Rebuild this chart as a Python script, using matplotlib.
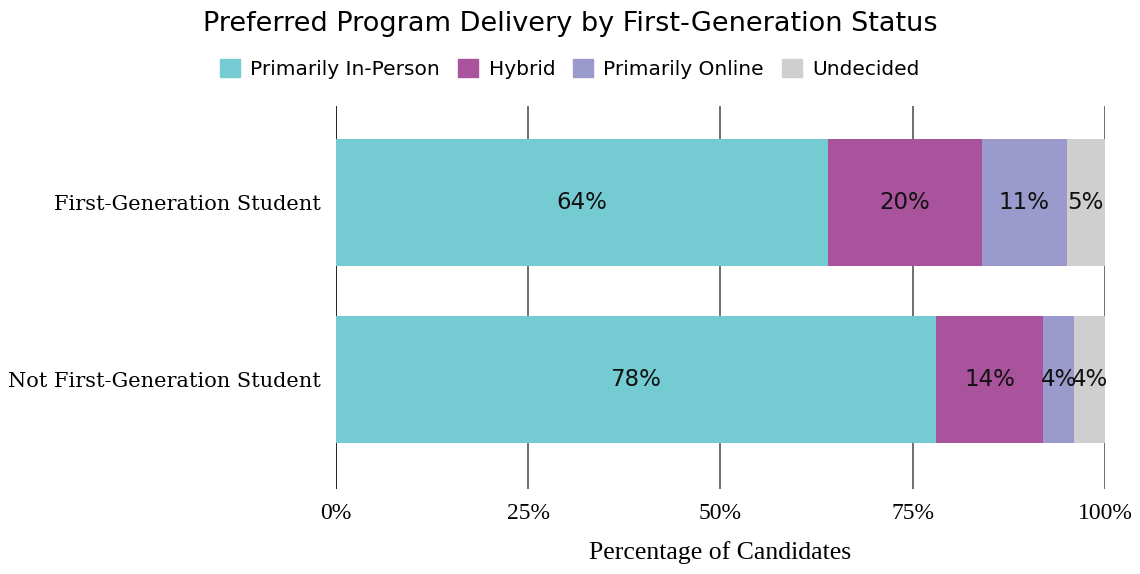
import numpy as np
import matplotlib
matplotlib.use("Agg")
import matplotlib.pyplot as plt
from matplotlib.patches import Patch

# data
groups = ["First-Generation Student", "Not First-Generation Student"]
categories = ["Primarily In-Person", "Hybrid", "Primarily Online", "Undecided"]
in_person = [64, 78]
hybrid = [20, 14]
online = [11, 4]
undecided = [5, 4]
xticks = [0, 25, 50, 75, 100]
xticklabels = ["0%", "25%", "50%", "75%", "100%"]
colors = ["#74CCD2", "#AA539D", "#9A9ACC", "#CFCFCF"]

SANS = "DejaVu Sans"


def main():
    series = [in_person, hybrid, online, undecided]
    y = np.arange(len(groups))

    fig = plt.figure(figsize=(11.4, 5.74), dpi=100)
    ax = fig.add_axes([0.2947, 0.148, 0.6746, 0.6673])

    left = np.zeros(len(groups))
    for vals, col in zip(series, colors):
        vals = np.array(vals, dtype=float)
        ax.barh(y, vals, left=left, height=0.72, color=col, zorder=2)
        for yi, l, v in zip(y, left, vals):
            ax.text(l + v / 2, yi, f"{v:.0f}%", ha="center", va="center",
                    fontsize=16.5, family=SANS, color="#111111", zorder=3)
        left += vals

    ax.set_xlim(0, 100)
    ax.set_ylim(1.62, -0.545)
    ax.set_xticks(xticks)
    ax.set_xticklabels(xticklabels, family="Liberation Serif", fontsize=17)
    ax.set_yticks(y)
    ax.set_yticklabels(groups, family="DejaVu Serif", fontsize=15)
    ax.tick_params(length=0)
    ax.tick_params(axis="y", pad=11)
    ax.tick_params(axis="x", pad=10)
    for s in ax.spines.values():
        s.set_visible(False)
    for i, xv in enumerate(xticks):
        ax.axvline(xv, color="#000000" if i == 0 else "#555555",
                   lw=1.2, zorder=1)

    ax.set_xlabel("Percentage of Candidates", family="Liberation Serif",
                  fontsize=18.5, labelpad=12)

    fig.suptitle("Preferred Program Delivery by First-Generation Status",
                 family=SANS, fontsize=19.5, y=0.98)
    handles = [Patch(color=c) for c in colors]
    fig.legend(handles, categories, loc="center", bbox_to_anchor=(0.5, 0.88),
               ncol=4, frameon=False, prop={"family": SANS, "size": 14.5},
               handlelength=1.0, handleheight=1.0, columnspacing=0.9,
               handletextpad=0.5)

    fig.savefig("out.png", dpi=100)


if __name__ == "__main__":
    main()
